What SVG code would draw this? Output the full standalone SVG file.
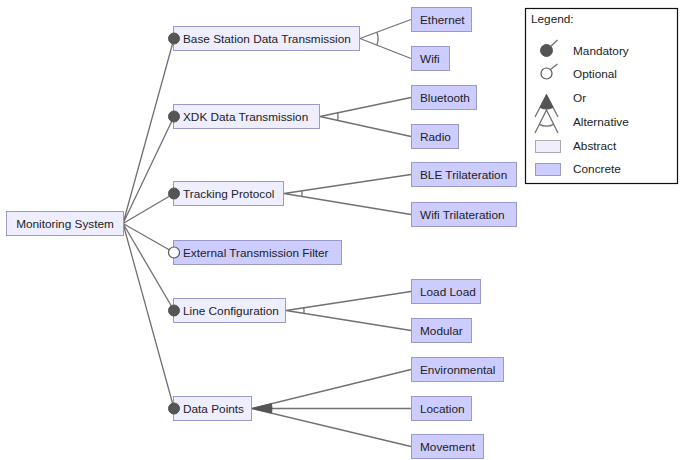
<svg xmlns="http://www.w3.org/2000/svg" width="680" height="460" viewBox="0 0 680 460">
<style>
  text { font-family: "Liberation Sans", Arial, sans-serif; font-size: 11.8px; fill: #222; }
  .abs { fill: #eeeeff; stroke: #9999cc; stroke-width: 1; }
  .con { fill: #ccccff; stroke: #9999cc; stroke-width: 1; }
  .edge { stroke: #707070; stroke-width: 1.3; fill: none; }
  .mand { fill: #555; stroke: #555; stroke-width: 1; }
  .opt { fill: #fff; stroke: #555; stroke-width: 1.2; }
  .orfill { fill: #555; stroke: #555; stroke-width: 1; }
</style>
<rect x="0" y="0" width="680" height="460" fill="#fff"/>

<g id="connectors">
  <path class="edge" d="M123,223.5 L174,38.5 M123,223.5 L174,116.5 M123,223.5 L174,193.5 M123,223.5 L174,252.5 M123,223.5 L174,310.5 M123,223.5 L174,408.5"/>
  <path class="edge" d="M360,38.5 L411,19.5 M360,38.5 L411,58.5"/>
  <path class="edge" d="M376.9,32.2 A18,18 0 0 1 376.8,45.1"/>
  <path class="edge" d="M320,116.5 L411,97.5 M320,116.5 L411,136.5"/>
  <path class="edge" d="M337.6,112.8 A18,18 0 0 1 337.6,120.4"/>
  <path class="edge" d="M284,193.5 L411,174.5 M284,193.5 L411,214.5"/>
  <path class="edge" d="M301.8,190.8 A18,18 0 0 1 301.8,196.4"/>
  <path class="edge" d="M286,310.5 L411,291.5 M286,310.5 L411,330.5"/>
  <path class="edge" d="M303.8,307.8 A18,18 0 0 1 303.8,313.3"/>
  <path class="edge" d="M252,408.5 L411,369.5 M252,408.5 L411,408.5 M252,408.5 L411,446.5"/>
  <path class="orfill" d="M252,408.5 L271.4,403.7 A20,20 0 0 1 271.5,413.1 Z"/>
</g>

<g id="monitoring-system"><rect class="abs" x="6.5" y="211.5" width="117" height="24"/><text x="65" y="227.5" text-anchor="middle">Monitoring System</text></g>

<g id="base-station"><rect class="abs" x="173.5" y="26.5" width="186" height="24"/><circle class="mand" cx="174" cy="38.5" r="5.5"/><text x="183" y="42.5">Base Station Data Transmission</text></g>
<g id="xdk"><rect class="abs" x="173.5" y="104.5" width="146" height="24"/><circle class="mand" cx="174" cy="116.5" r="5.5"/><text x="183" y="120.5">XDK Data Transmission</text></g>
<g id="tracking"><rect class="abs" x="173.5" y="181.5" width="110" height="24"/><circle class="mand" cx="174" cy="193.5" r="5.5"/><text x="183" y="197.5">Tracking Protocol</text></g>
<g id="external-filter"><rect class="con" x="173.5" y="240.5" width="168" height="24"/><circle class="opt" cx="174" cy="252.5" r="5.5"/><text x="183" y="256.5">External Transmission Filter</text></g>
<g id="line-config"><rect class="abs" x="173.5" y="298.5" width="112" height="24"/><circle class="mand" cx="174" cy="310.5" r="5.5"/><text x="183" y="314.5">Line Configuration</text></g>
<g id="data-points"><rect class="abs" x="173.5" y="396.5" width="78" height="24"/><circle class="mand" cx="174" cy="408.5" r="5.5"/><text x="183" y="412.5">Data Points</text></g>

<g id="ethernet"><rect class="con" x="411.5" y="7.5" width="60" height="24"/><text x="420" y="23.5">Ethernet</text></g>
<g id="wifi"><rect class="con" x="411.5" y="46.5" width="38" height="24"/><text x="420" y="62.5">Wifi</text></g>
<g id="bluetooth"><rect class="con" x="411.5" y="85.5" width="65" height="24"/><text x="420" y="101.5">Bluetooth</text></g>
<g id="radio"><rect class="con" x="411.5" y="124.5" width="47" height="24"/><text x="420" y="140.5">Radio</text></g>
<g id="ble-trilateration"><rect class="con" x="411.5" y="162.5" width="105" height="24"/><text x="420" y="178.5">BLE Trilateration</text></g>
<g id="wifi-trilateration"><rect class="con" x="411.5" y="202.5" width="105" height="24"/><text x="420" y="218.5">Wifi Trilateration</text></g>
<g id="load-load"><rect class="con" x="411.5" y="279.5" width="69" height="24"/><text x="420" y="295.5">Load Load</text></g>
<g id="modular"><rect class="con" x="411.5" y="318.5" width="60" height="24"/><text x="420" y="334.5">Modular</text></g>
<g id="environmental"><rect class="con" x="411.5" y="357.5" width="92" height="24"/><text x="420" y="373.5">Environmental</text></g>
<g id="location"><rect class="con" x="411.5" y="396.5" width="60" height="24"/><text x="420" y="412.5">Location</text></g>
<g id="movement"><rect class="con" x="411.5" y="434.5" width="72" height="24"/><text x="420" y="450.5">Movement</text></g>

<g id="legend">
  <rect x="525.5" y="8.5" width="152" height="175" fill="#fff" stroke="#111" stroke-width="1.2"/>
  <text x="531" y="23" font-size="11">Legend:</text>
  <circle class="mand" cx="546.5" cy="50.5" r="6"/>
  <path class="edge" d="M550.5,46.5 L557.5,40"/>
  <text x="573" y="55">Mandatory</text>
  <circle class="opt" cx="546.5" cy="73.5" r="5.5"/>
  <path class="edge" d="M550.5,69.5 L557.5,64"/>
  <text x="573" y="78">Optional</text>
  <path class="edge" d="M535,117 L546.5,95 L558,117"/>
  <path class="orfill" d="M546.5,95 L540,107.4 A14,14 0 0 0 553,107.4 Z"/>
  <text x="573" y="102">Or</text>
  <path class="edge" d="M535,133 L546.5,110 L558,133"/>
  <path class="edge" d="M539.3,124.3 A16,16 0 0 0 553.7,124.3"/>
  <text x="573" y="126">Alternative</text>
  <rect x="535.5" y="140.5" width="25" height="12" fill="#eeeeff" stroke="#aaaaaa"/>
  <text x="573" y="150">Abstract</text>
  <rect x="535.5" y="163.5" width="25" height="12" fill="#ccccff" stroke="#9999cc"/>
  <text x="573" y="173">Concrete</text>
</g>
</svg>
